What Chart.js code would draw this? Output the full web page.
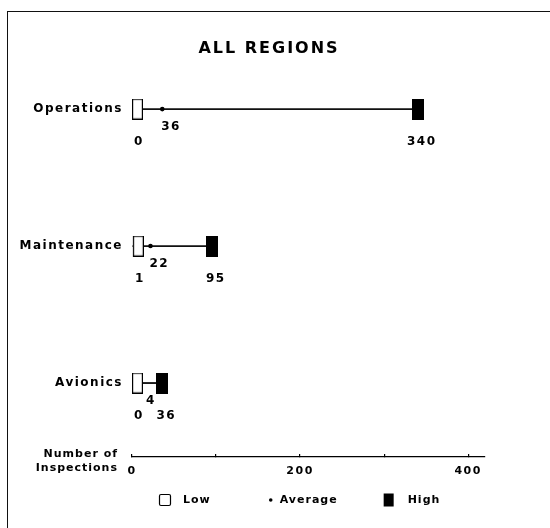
<!DOCTYPE html>
<html>
<head>
<meta charset="utf-8">
<script src="https://cdn.jsdelivr.net/npm/chart.js@4.4.1/dist/chart.umd.min.js"></script>
<style>
  html, body { margin: 0; padding: 0; background: #fff; overflow: hidden; }
  #wrap { position: relative; width: 550px; height: 528px; }
  #frame { position: absolute; left: 7px; top: 11px; width: 600px; height: 600px;
           border-left: 1px solid #111; border-top: 1px solid #111; pointer-events: none; }
</style>
</head>
<body>
<div id="wrap">
  <canvas id="chart"></canvas>
  <div id="frame"></div>
</div>
<script>
// data
const chartTitle = 'ALL REGIONS';
const categories = ['Operations', 'Maintenance', 'Avionics'];
const lowValues = [0, 1, 0];
const avgValues = [36, 22, 4];
const highValues = [340, 95, 36];
const tickValues = [0, 100, 200, 300, 400];
const tickLabels = ['0', '', '200', '', '400'];
const axisTitle = ['Number of', 'Inspections'];
const legendLabels = ['Low', 'Average', 'High'];

const FONT = "'DejaVu Sans', sans-serif";
Chart.defaults.font.family = FONT;
Chart.defaults.color = '#000';

// box markers: the low box sits to the right of its value, the high box is centred
function boxImage(w, h, offsetX, filled) {
  const c = document.createElement('canvas');
  c.width = w;
  c.height = h;
  const g = c.getContext('2d');
  if (filled) {
    g.fillStyle = '#000';
    g.fillRect(offsetX, 0, w - offsetX, h);
  } else {
    g.fillStyle = '#fff';
    g.fillRect(offsetX + 0.5, 0.5, w - offsetX - 1, h - 1);
    g.strokeStyle = '#000';
    g.lineWidth = 1.2;
    g.strokeRect(offsetX + 0.6, 0.6, w - offsetX - 1.2, h - 1.2);
  }
  return c;
}
const lowBox = boxImage(22, 21, 11, false);
const highBox = boxImage(12, 21, 0, true);

// wide letter spacing like the original lettering
const spacing = {
  id: 'spacing',
  beforeUpdate(chart) { chart.ctx.letterSpacing = '1.5px'; },
  beforeDraw(chart) { chart.ctx.letterSpacing = '1.5px'; }
};

// numbers under the markers
const valueLabels = {
  id: 'valueLabels',
  afterDatasetsDraw(chart) {
    const ctx = chart.ctx;
    const low = chart.getDatasetMeta(0).data;
    const avg = chart.getDatasetMeta(1).data;
    const high = chart.getDatasetMeta(2).data;
    ctx.save();
    ctx.font = `bold 12px ${FONT}`;
    ctx.fillStyle = '#000';
    ctx.textBaseline = 'middle';
    categories.forEach((c, i) => {
      ctx.textAlign = 'center';
      ctx.fillText(String(lowValues[i]), low[i].x + 7, low[i].y + 33);
      ctx.fillText(String(highValues[i]), high[i].x + 4, high[i].y + 33);
      ctx.textAlign = 'left';
      ctx.fillText(String(avgValues[i]), Math.max(avg[i].x - 1, low[i].x + 14), avg[i].y + 18);
    });
    ctx.restore();
  }
};

// title, axis title and legend row
const legendGaps = [58, 46];
const extras = {
  id: 'extras',
  afterDraw(chart) {
    const ctx = chart.ctx;
    const a = chart.chartArea;
    const xScale = chart.scales.x;
    ctx.save();
    ctx.fillStyle = '#000';
    ctx.strokeStyle = '#000';

    ctx.font = `bold 16px ${FONT}`;
    ctx.letterSpacing = '2px';
    ctx.textAlign = 'center';
    ctx.textBaseline = 'middle';
    ctx.fillText(chartTitle, chart.width / 2 - 6, 49);

    ctx.font = `bold 11px ${FONT}`;
    ctx.letterSpacing = '1px';
    ctx.textAlign = 'right';
    ctx.textBaseline = 'alphabetic';
    ctx.fillText(axisTitle[0], a.left - 14, xScale.top);
    ctx.fillText(axisTitle[1], a.left - 14, xScale.top + 14);

    ctx.textAlign = 'left';
    ctx.textBaseline = 'middle';
    const y = 500;
    let x = a.left + 27;
    chart.data.datasets.slice(0, 3).forEach((ds, i) => {
      if (i === 0) {
        ctx.lineWidth = 1.2;
        ctx.beginPath();
        ctx.roundRect(x + 0.5, y - 5.5, 11, 11, 1.5);
        ctx.stroke();
        x += 24;
      } else if (i === 1) {
        ctx.beginPath();
        ctx.arc(x + 2, y, 1.8, 0, Math.PI * 2);
        ctx.fill();
        x += 11;
      } else {
        ctx.fillRect(x, y - 6.5, 10, 13);
        x += 24;
      }
      ctx.fillText(ds.label, x, y);
      x += ctx.measureText(ds.label).width + (legendGaps[i] || 0);
    });
    ctx.restore();
  }
};

new Chart(document.getElementById('chart'), {
  type: 'scatter',
  data: {
    datasets: [
      {
        label: legendLabels[0],
        data: lowValues.map((v, i) => ({ x: v, y: i })),
        pointStyle: lowBox,
        pointRadius: 6
      },
      {
        label: legendLabels[1],
        data: avgValues.map((v, i) => ({ x: v, y: i })),
        pointStyle: 'circle',
        pointRadius: 2.3,
        backgroundColor: '#000',
        borderColor: '#000',
        borderWidth: 0
      },
      {
        label: legendLabels[2],
        data: highValues.map((v, i) => ({ x: v, y: i })),
        pointStyle: highBox,
        pointRadius: 6
      },
      {
        type: 'bar',
        label: 'range',
        indexAxis: 'y',
        data: categories.map((c, i) => ({ x: [lowValues[i], highValues[i]], y: i })),
        backgroundColor: '#111',
        borderWidth: 0,
        barThickness: 1.2
      }
    ]
  },
  options: {
    responsive: true,
    maintainAspectRatio: false,
    animation: false,
    events: [],
    layout: { padding: { top: 68, right: 65, bottom: 47, left: 0 } },
    plugins: {
      legend: { display: false },
      tooltip: { enabled: false },
      title: { display: false }
    },
    scales: {
      x: {
        type: 'linear',
        min: 0,
        max: 420,
        offset: false,
        afterFit(s) { s.height = 24; },
        afterBuildTicks(s) { s.ticks = tickValues.map(v => ({ value: v })); },
        ticks: {
          autoSkip: false,
          maxRotation: 0,
          padding: 11,
          color: '#000',
          font: { size: 11, weight: 'bold' },
          callback: (v, i) => tickLabels[i]
        },
        grid: { display: true, drawOnChartArea: false, drawTicks: true, tickLength: -3, color: '#000', lineWidth: 1.2 },
        border: { display: true, color: '#000', width: 1.3 }
      },
      y: {
        type: 'linear',
        reverse: true,
        min: -0.3,
        max: 2.54,
        offset: false,
        afterFit(s) { s.width = 132; },
        afterBuildTicks(s) { s.ticks = categories.map((c, i) => ({ value: i })); },
        ticks: {
          autoSkip: false,
          padding: 9,
          color: '#000',
          font: { size: 12, weight: 'bold' },
          callback: v => categories[v]
        },
        grid: { display: false, drawTicks: false, offset: false },
        border: { display: false }
      }
    }
  },
  plugins: [spacing, valueLabels, extras]
});
</script>
</body>
</html>
